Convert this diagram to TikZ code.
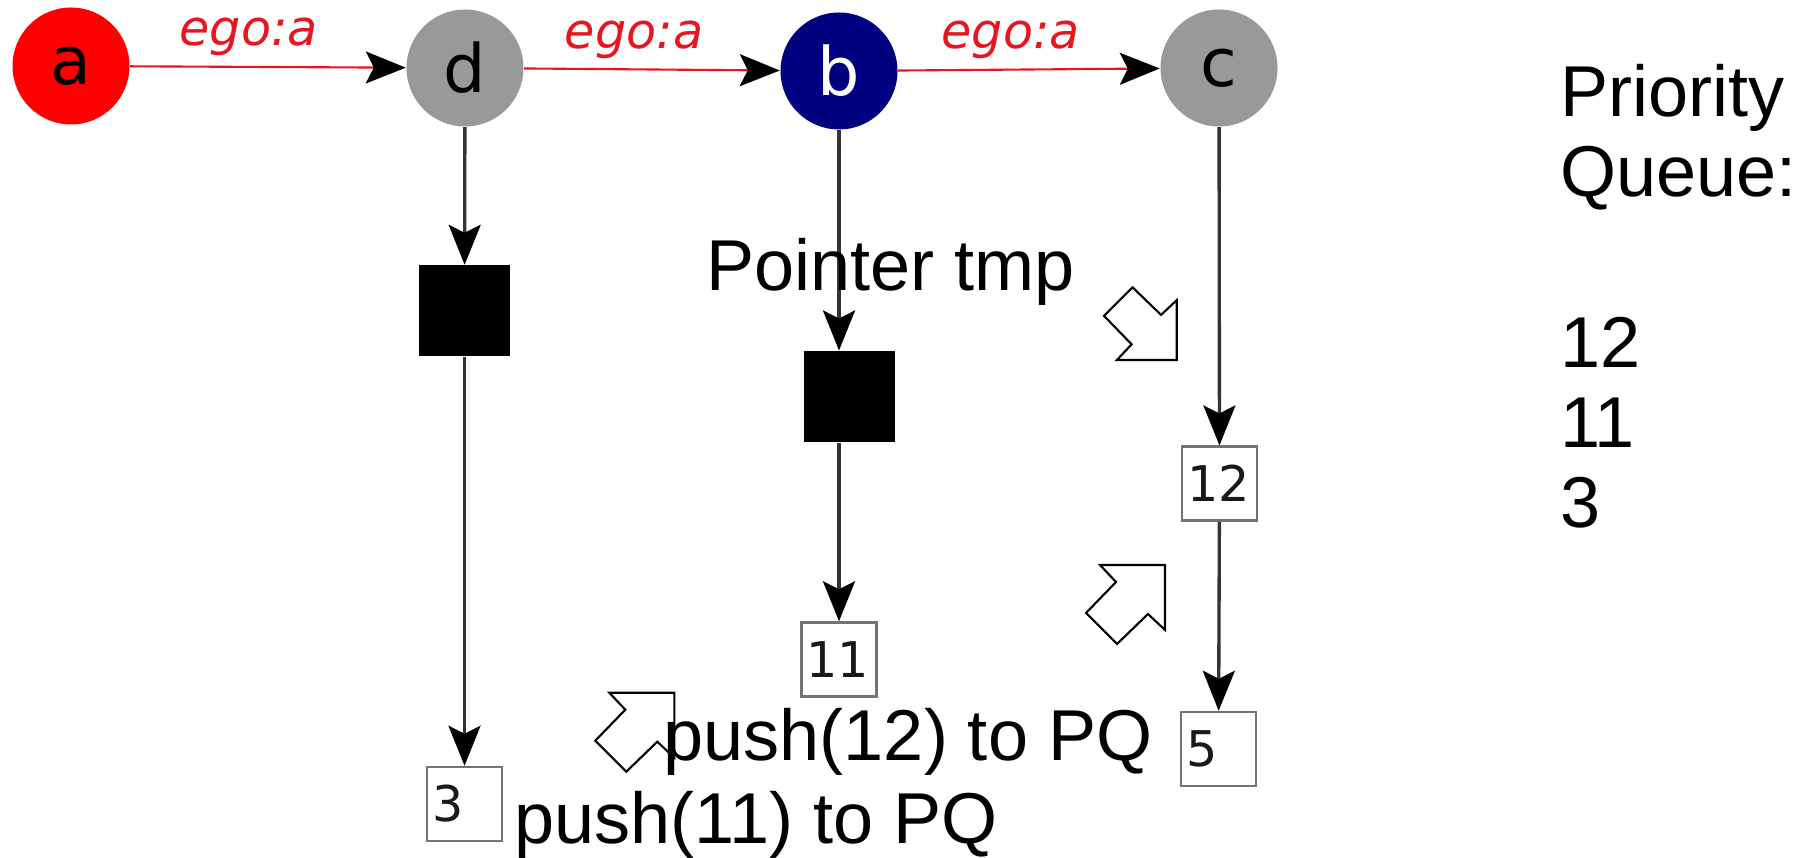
\documentclass[tikz,border=0pt]{standalone}
\usepackage{fontspec}
\setmainfont{Liberation Sans}
\newfontfamily\dejavu{DejaVu Sans}
\usetikzlibrary{arrows.meta}
\definecolor{egored}{RGB}{232,20,30}
\definecolor{vgray}{RGB}{153,153,153}
\definecolor{vnavy}{RGB}{0,0,128}
\definecolor{vred}{RGB}{255,0,0}
\tikzset{fatarrow/.pic={
  \draw[fill=white,line width=0.6pt,line join=miter] (0,0) -- (0,-0.65) -- (-0.17,-0.49) -- (-0.48,-0.79)
    -- (-0.79,-0.48) -- (-0.49,-0.17) -- (-0.65,0) -- cycle;}}

\begin{document}
\begin{tikzpicture}[
    vertex/.style={circle,minimum size=1.17cm,inner sep=0pt,font=\dejavu\fontsize{19}{19}\selectfont},
    blackbox/.style={rectangle,fill=black,minimum size=0.91cm,inner sep=0pt},
    valbox/.style={rectangle,draw=black!55,line width=0.7pt,fill=white,minimum height=0.74cm,text width=0.65cm,
      inner sep=0.05cm,align=left,text=black!90,font=\dejavu\fontsize{14}{14}\selectfont},
    headtip/.style={-{Stealth[length=0.4cm,width=0.32cm,inset=0.08cm,black]}},
    egoedge/.style={headtip,draw=egored,line width=0.6pt},
    pointer/.style={headtip,draw=black!80,line width=0.95pt},
    egolabel/.style={above,pos=0.43,inner sep=0.1cm,text=egored,font=\dejavu\itshape\fontsize{14}{14}\selectfont},
    bigtext/.style={anchor=base west,inner sep=0pt,font=\fontsize{20.5}{24}\selectfont}]
        \useasboundingbox (0,0) rectangle (18.02,-8.58);
        \node[vertex,fill=vred] (a) at (0.71,-0.66) {a};
        \node[vertex,fill=vgray] (d) at (4.65,-0.68) {d};
        \node[vertex,fill=vnavy,text=white] (b) at (8.39,-0.71) {b};
        \node[vertex,fill=vgray] (c) at (12.19,-0.68) {c};
        \node[blackbox] (dsq) at (4.645,-3.11) {};
        \node[blackbox] (bsq) at (8.49,-3.967) {};
        \node[valbox] (v3) at (4.645,-8.04) {3};
        \node[valbox] (v11) at (8.39,-6.595) {11};
        \node[valbox] (v12) at (12.195,-4.837) {12};
        \node[valbox] (v5) at (12.185,-7.49) {5};
        \draw[egoedge] (a) -- (d) node[egolabel] {ego:a};
        \draw[egoedge] (d) -- (b) node[egolabel] {ego:a};
        \draw[egoedge] (b) -- (c) node[egolabel] {ego:a};
        \draw[pointer] (d) -- (dsq);
        \draw[pointer] (dsq) -- (v3);
        \draw[pointer] (b) -- (b |- bsq.north);
        \draw[pointer] (b |- bsq.south) -- (v11);
        \draw[pointer] (c) -- (v12);
        \draw[pointer] (v12) -- (v5);
        \pic[yscale=-1,scale=0.92] at (11.767,-3.60) {fatarrow};
        \pic at (11.65,-5.65) {fatarrow};
        \pic at (6.743,-6.927) {fatarrow};
        \node[bigtext] (tmplabel) at (7.053,-2.907) {Pointer tmp};
        \node[bigtext] (push12) at (6.63,-7.60) {push(12) to PQ};
        \node[bigtext] (push11) at (5.134,-8.433) {push(11) to PQ};
        \node[bigtext] (pqtitle) at (15.595,-1.167) {Priority};
        \node[bigtext] (pqtitle2) at (15.595,-1.967) {Queue:};
        \foreach \v [count=\i] in {12,11,3}
            \node[bigtext] (pq\v) at (15.595,{-3.68-0.8*(\i-1)}) {\v};
    \end{tikzpicture}
\end{document}
